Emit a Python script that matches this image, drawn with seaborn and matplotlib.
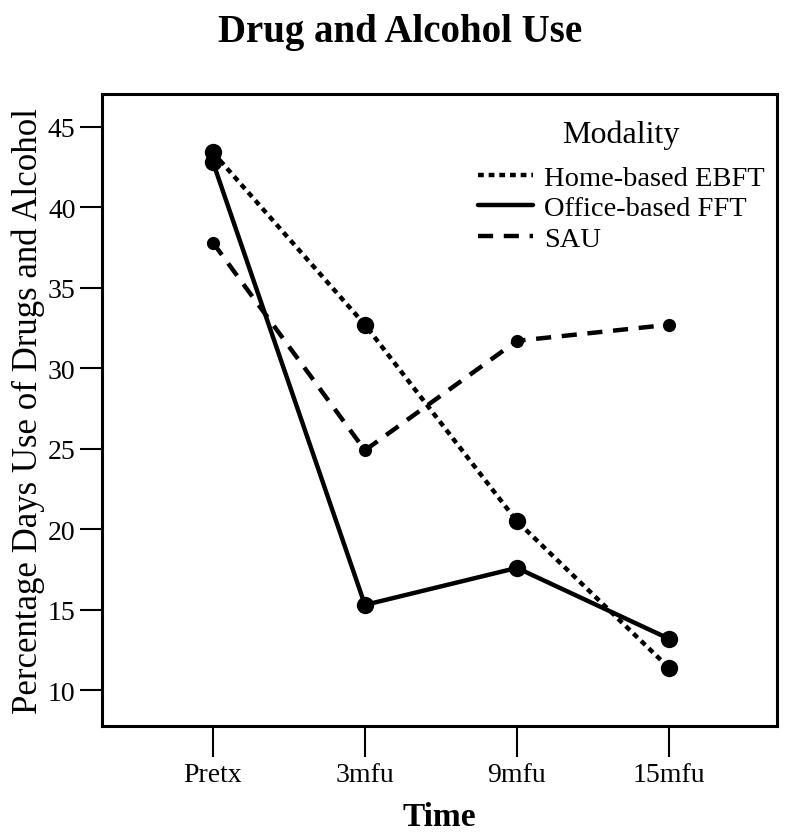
import pandas as pd
import matplotlib.pyplot as plt
import seaborn as sns
from matplotlib.lines import Line2D

# 數據
times = ['Pretx', '3mfu', '9mfu', '15mfu']
home_ebft = [43.4, 32.7, 20.5, 11.4]
office_fft = [42.8, 15.3, 17.6, 13.2]
sau = [37.8, 24.9, 31.7, 32.7]
groups = ['Home-based EBFT', 'Office-based FFT', 'SAU']

df = pd.DataFrame({
    'Time': times * 3,
    'Value': home_ebft + office_fft + sau,
    'Modality': [groups[0]] * 4 + [groups[1]] * 4 + [groups[2]] * 4,
})
df['x'] = df['Time'].map({t: i for i, t in enumerate(times)})

sns.set_theme(style='white')
plt.rcParams['font.family'] = ['Liberation Serif', 'DejaVu Serif']
plt.rcParams['text.color'] = 'black'
plt.rcParams['axes.labelcolor'] = 'black'
plt.rcParams['xtick.color'] = 'black'
plt.rcParams['ytick.color'] = 'black'

fig = plt.figure(figsize=(8, 8.37), dpi=100)
ax = fig.add_axes([0.1275, 0.1314, 0.8435, 0.7551])

dash_map = {groups[0]: (1.3, 1.1), groups[1]: '', groups[2]: (3.4, 2.4)}
sns.lineplot(data=df, x='x', y='Value', style='Modality', dashes=dash_map,
             markers={g: 'o' for g in groups}, color='black', linewidth=3.2,
             markersize=12.5, markeredgewidth=0, ax=ax, legend=False)
# SAU 的點較小
ax.lines[2].set_markersize(9.5)

ax.set_xlim(-0.73, 3.71)
ax.set_ylim(7.78, 47.03)
ax.set_xticks(range(len(times)))
ax.set_xticklabels(times)
ax.set_yticks([10, 15, 20, 25, 30, 35, 40, 45])

for s in ax.spines.values():
    s.set_color('black')
    s.set_linewidth(2.2)
ax.tick_params(axis='x', direction='out', length=22, width=1.5,
               labelsize=20, pad=4, bottom=True)
ax.tick_params(axis='y', direction='out', length=16, width=1.5,
               labelsize=20, pad=3, left=True)

ax.set_xlabel('Time', fontsize=24, fontweight='bold', labelpad=10)
ax.set_ylabel('Percentage Days Use of Drugs and Alcohol', fontsize=25, labelpad=2)
fig.text(0.5, 0.950, 'Drug and Alcohol Use', fontsize=28, fontweight='bold',
         ha='center', va='baseline')

handles = [Line2D([], [], color='black', lw=3.2, dashes=dash_map[groups[0]]),
           Line2D([], [], color='black', lw=3.2),
           Line2D([], [], color='black', lw=3.2, dashes=dash_map[groups[2]])]
leg = ax.legend(handles, groups, title='Modality', loc='upper right', frameon=False,
                fontsize=20.5, title_fontsize=23, handlelength=1.95, handletextpad=0.38,
                labelspacing=0.15, bbox_to_anchor=(1.02, 1.0))
# 標題與項目之間多留一點空間
leg._legend_box.sep += 8.5

fig.savefig('out.png', dpi=100, facecolor='white')
